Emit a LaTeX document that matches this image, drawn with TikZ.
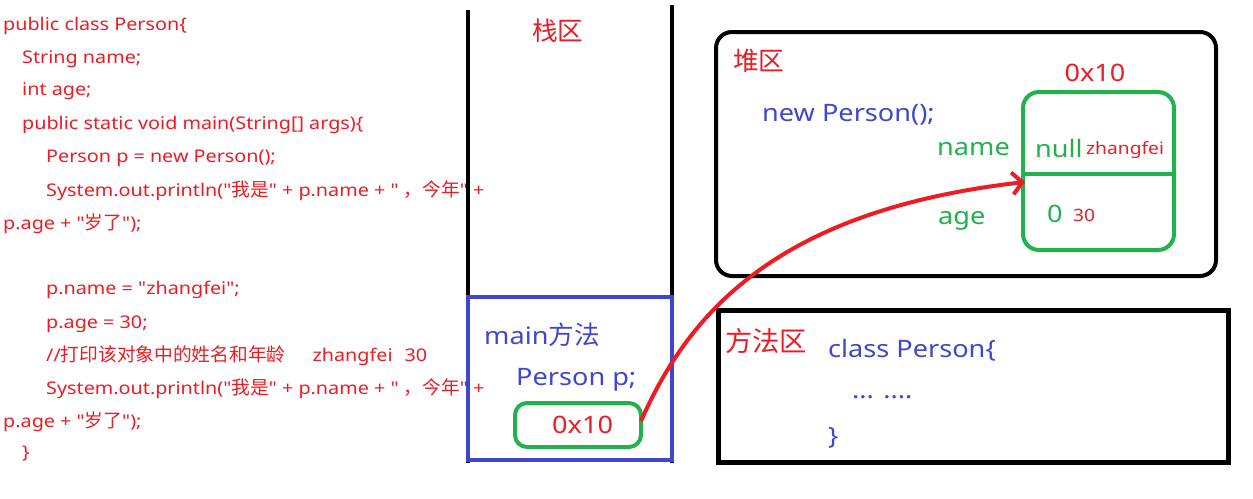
\documentclass[tikz,border=0pt]{standalone}
\usepackage{fontspec}
\setmainfont{Noto Sans}[Ligatures=TeXOff,FakeStretch=1.13]
\newfontfamily\cjkfont{Noto Sans CJK SC}[Ligatures=TeXOff,Scale=1.07]
\newcommand{\zh}[1]{{\cjkfont #1}}
\usetikzlibrary{arrows.meta}
\definecolor{pred}{RGB}{237,28,36}
\definecolor{pblue}{RGB}{63,72,204}
\definecolor{pgreen}{RGB}{34,177,76}
\tikzset{
  code/.style={anchor=west,inner sep=0pt,text=pred,font=\fontsize{17.5}{20}\selectfont},
  big/.style={anchor=west,inner sep=0pt,font=\fontsize{24}{28}\selectfont},
  small/.style={anchor=west,inner sep=0pt,text=pred,font=\fontsize{17}{18}\selectfont},
  thick4/.style={line width=4pt},
}
\begin{document}
\begin{tikzpicture}[x=1pt,y=-1pt]
\useasboundingbox[fill=white] (0,0) rectangle (1253,498);
% code
\node[code] (l1) at (3,26) {public class Person\{};
\node[code] (l2) at (22,59) {String name;};
\node[code] (l3) at (22,91) {int age;};
\node[code] (l4) at (22,125) {public static void main(String[] args)\{};
\node[code] (l5) at (46,158) {Person p = new Person();};
\node[code] (l6) at (46,191) {System.out.println("\zh{我是}" + p.name + " \zh{，今年}" +};
\node[code] (l7) at (3,224) {p.age + "\zh{岁了}");};
\node[code] (l8) at (46,290) {p.name = "zhangfei";};
\node[code] (l9) at (46,324) {p.age = 30;};
\node[code] (l10) at (46,356) {//\zh{打印该对象中的姓名和年龄}\hspace{27pt}zhangfei\hspace{12pt}30};
\node[code] (l11) at (46,389) {System.out.println("\zh{我是}" + p.name + " \zh{，今年}" +};
\node[code] (l12) at (3,422) {p.age + "\zh{岁了}");};
\node[code] (l13) at (22,454) {\}};
% stack
\coordinate (sl1) at (468,10);
\coordinate (sl2) at (468,463);
\coordinate (sr1) at (672,5);
\coordinate (sr2) at (672,463);
\draw[thick4] (sl1) -- (sl2);
\draw[thick4] (sr1) -- (sr2);
\draw[thick4,draw=pblue] (468,297) rectangle (672,460);
\node[big,text=pred] (zhan) at (532,31) {\zh{栈区}};
\node[big,text=pblue] (mainm) at (484,335) {main\zh{方法}};
\node[big,text=pblue] (pp) at (516,380) {Person p;};
\draw[thick4,draw=pgreen,rounded corners=12pt] (515,403) rectangle (641,447);
\coordinate (pref) at (641,421);
\node[big,text=pred] (addr) at (552,425) {0x10};
% heap
\draw[thick4,rounded corners=16pt] (716,32) rectangle (1216,276);
\node[big,text=pred] (dui) at (733,61) {\zh{堆区}};
\node[big,text=pred,anchor=center] (haddr) at (1095,73) {0x10};
\node[big,text=pblue] (newp) at (762,115) {new Person();};
\draw[thick4,draw=pgreen,rounded corners=16pt] (1023,92) rectangle (1174,250);
\draw[thick4,draw=pgreen] (1023,174) -- (1174,174);
\coordinate (obj) at (1025,182);
\node[big,text=pgreen] (fname) at (937,149) {name};
\node[big,text=pgreen] (fnull) at (1035,148) {null};
\node[small] (zf) at (1086,150) {zhangfei};
\node[big,text=pgreen] (fage) at (938,221) {age};
\node[big,text=pgreen] (fzero) at (1047,214) {0};
\node[small] (f30) at (1073,215) {30};
% method area
\draw[line width=5pt] (718,310) rectangle (1228,462);
\node[big,text=pred,font=\fontsize{25.5}{28}\selectfont] (ff) at (725,341) {\zh{方法区}};
\node[big,text=pblue] (cls) at (828,350) {class Person\{};
\node[big,text=pblue] (dots) at (852,397) {... ....};
\node[big,text=pblue] (rb) at (828,438) {\}};
% arrow
\draw[line width=4pt,draw=pred,-{Straight Barb[length=10pt,width=22pt,line width=4pt]}]
  (pref) .. controls (690,310) and (780,210) .. (obj);
\end{tikzpicture}
\end{document}
